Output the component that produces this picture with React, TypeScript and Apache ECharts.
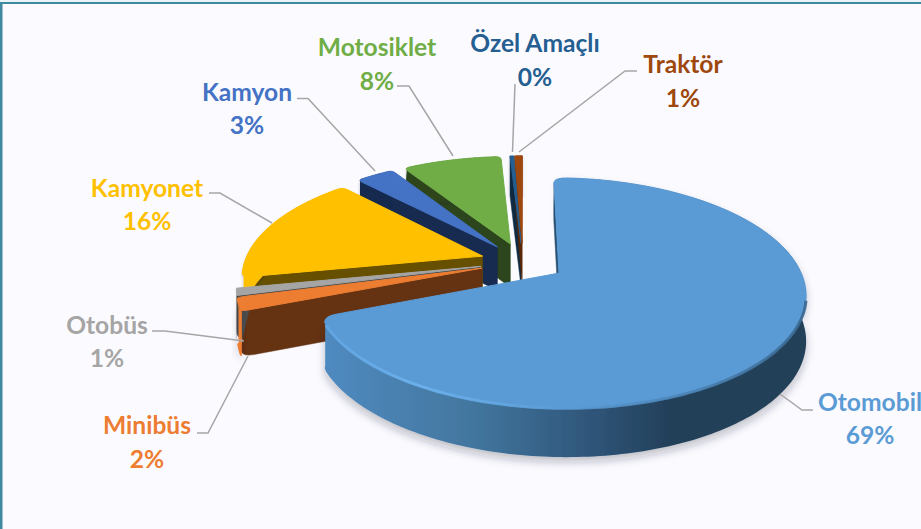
import React, { useEffect, useRef } from "react";
import * as echarts from "echarts";

const categories = ["Otomobil", "Minibüs", "Otobüs", "Kamyonet", "Kamyon", "Motosiklet", "Özel Amaçlı", "Traktör"];
const shareValues = [68.8, 1.9, 1, 16, 3.1, 8, 0.3, 0.6];

const topColors = ["#5b9bd5", "#ed7d31", "#a5a5a5", "#ffc000", "#4472c4", "#70ad47", "#255e91", "#9e480e"];
const cutColors = ["#2b5275", "#653212", "#4d4d4d", "#665000", "#172b50", "#2d451c", "#0f2a42", "#5a2807"];
const rimColors = ["#2b5275", "#ed7d31", "#8a8a8a", "#ffc000", "#172b50", "#2d451c", "#0f2a42", "#5a2807"];
const textColors = ["#5b9bd5", "#ed7d31", "#a5a5a5", "#ffc000", "#4472c4", "#70ad47", "#255e91", "#9e480e"];

const labelCentres: number[][] = [
  [870, 401], [147, 424], [107, 324], [147, 187], [247, 91], [377, 46], [535, 42], [683, 63],
];
const percentCentres: number[][] = [
  [870, 434], [147, 458], [107, 357], [147, 220], [247, 124], [377, 80], [535, 76], [683, 97],
];
const leaderLines: number[][][] = [
  [[780, 394], [802, 410], [813, 410]],
  [[197, 433], [208, 433], [248, 356]],
  [[152, 331], [165, 331], [244, 341]],
  [[209, 193], [220, 193], [272, 223]],
  [[297, 98.5], [308, 98.5], [375, 171]],
  [[397, 86], [409, 86], [453, 156]],
  [[515, 84], [512.5, 152]],
  [[637, 71], [625, 71], [519, 152]],
];

const CX = 523, CY = 262, RX = 238, RY = 108, K = 0.17, EXPLODE = 0.18, THICK = 44;
const FONT = "bold 24.6px Lato, 'Noto Sans', sans-serif";
const total = shareValues.reduce((a, b) => a + b, 0);

function project(X: number, Y: number, down: boolean): number[] {
  const d = 1 + K * Y;
  return [CX + (RX * X) / d, CY - (RY * Y) / d + (down ? THICK / Math.sqrt(d) : 0)];
}

// rounds the corner P between a point A and a point B
function cornerCurve(A: number[], P: number[], B: number[]): number[][] {
  const out: number[][] = [];
  for (let t = 0; t <= 1.0001; t += 0.2) {
    const u = 1 - t;
    out.push([
      u * u * A[0] + 2 * u * t * P[0] + t * t * B[0],
      u * u * A[1] + 2 * u * t * P[1] + t * t * B[1],
    ]);
  }
  return out;
}

function renderItem(params: any) {
  const i = params.dataIndex;
  const before = shareValues.slice(0, i).reduce((a, b) => a + b, 0);
  const a0 = (before / total) * Math.PI * 2;
  const a1 = ((before + shareValues[i]) / total) * Math.PI * 2;
  const mid = (a0 + a1) / 2;
  const ox = EXPLODE * Math.sin(mid);
  const oy = EXPLODE * Math.cos(mid);
  const rimAt = (a: number, down: boolean) => project(ox + Math.sin(a), oy + Math.cos(a), down);
  const alongEdge = (a: number, f: number, down: boolean) =>
    project(ox + Math.sin(a) * f, oy + Math.cos(a) * f, down);
  const apexTop = project(ox, oy, false);
  const apexLow = project(ox, oy, true);
  const sweep = a1 - a0;
  const isMain = i === 0;
  // corner rounding is limited on thin slices
  const roundA = isMain ? 0.07 : sweep > 0.3 ? 0.035 : sweep > 0.1 ? sweep * 0.12 : 0;
  const edgeF = isMain ? 0.94 : 0.965;
  const steps = Math.max(2, Math.ceil(sweep / 0.02));
  const outline = (down: boolean, trim: number) => {
    const pts: number[][] = [];
    if (roundA > 0) {
      pts.push(...cornerCurve(alongEdge(a0, edgeF, down), rimAt(a0, down), rimAt(a0 + roundA, down)).slice(trim));
    }
    for (let s = 0; s <= steps; s++) {
      const a = a0 + roundA + ((sweep - 2 * roundA) * s) / steps;
      pts.push(rimAt(a, down));
    }
    if (roundA > 0) {
      const c = cornerCurve(rimAt(a1 - roundA, down), rimAt(a1, down), alongEdge(a1, edgeF, down));
      pts.push(...c.slice(0, c.length - trim));
    }
    return pts;
  };
  const rimTop = outline(false, 0);
  const wallTop = outline(false, 3);
  const wallLow = outline(true, 3);
  const last = rimTop.length - 1;
  const base = Math.round((1 - Math.cos(mid)) * 100) * 10;
  const rimFill: any = isMain
    ? {
        type: "linear", x: 0, y: 0, x2: 1, y2: 0,
        colorStops: [
          { offset: 0, color: "#4f8ac0" },
          { offset: 0.3, color: "#43779f" },
          { offset: 0.55, color: "#2f567a" },
          { offset: 0.72, color: "#233f59" },
          { offset: 1, color: "#233f59" },
        ],
      }
    : rimColors[i];
  const cutPoly = (a: number, tip: number[]) => {
    const low = rimAt(a, true);
    const above = [low[0], low[1] - 9];
    return [apexTop, tip].concat(cornerCurve(above, low, alongEdge(a, 0.95, true)), [apexLow]);
  };
  const children: any[] = [
    {
      type: "polygon", z2: base,
      shape: { points: cutPoly(a0, rimTop[0]) },
      style: { fill: cutColors[i], stroke: cutColors[i], lineWidth: 0.5 },
    },
    {
      type: "polygon", z2: base + 1,
      shape: { points: wallTop.concat(wallLow.slice().reverse()) },
      style: {
        fill: rimFill,
        shadowBlur: isMain || i === 1 ? 9 : 3,
        shadowColor: "rgba(40,40,60,0.28)",
        shadowOffsetY: isMain ? 5 : 2,
      },
    },
    {
      type: "polygon", z2: base + 2,
      shape: { points: [apexTop].concat(rimTop) },
      style: { fill: topColors[i], stroke: topColors[i], lineWidth: 1, lineJoin: "round" },
    },
  ];
  if (isMain) {
    children.push({
      type: "polyline", z2: base + 3,
      shape: { points: rimTop.slice(Math.floor(last * 0.42), last - 4) },
      style: {
        fill: "none",
        lineWidth: 3,
        opacity: 0.9,
        stroke: {
          type: "linear", x: 1, y: 0, x2: 0, y2: 0,
          colorStops: [
            { offset: 0, color: "#3a678f" },
            { offset: 0.25, color: "#4b83b6" },
            { offset: 0.5, color: "#5b9bd5" },
            { offset: 0.8, color: "#6cb2ee" },
            { offset: 1, color: "#62a6e2" },
          ],
        },
      },
    });
  }
  children.push(
    {
      type: "polyline", z2: 5000,
      shape: { points: leaderLines[i] },
      style: { fill: "none", stroke: "#a6a6a6", lineWidth: 1.5 },
    },
    {
      type: "text", z2: 5001,
      style: {
        text: categories[i], x: labelCentres[i][0], y: labelCentres[i][1],
        fill: textColors[i], font: FONT, align: "center", verticalAlign: "middle",
      },
    },
    {
      type: "text", z2: 5001,
      style: {
        text: Math.round((shareValues[i] / total) * 100) + "%",
        x: percentCentres[i][0], y: percentCentres[i][1],
        fill: textColors[i], font: FONT, align: "center", verticalAlign: "middle",
      },
    }
  );
  return { type: "group", children };
}

export default function App() {
  const ref = useRef<HTMLDivElement>(null);
  useEffect(() => {
    document.body.style.margin = "0";
    const chart = echarts.init(ref.current as HTMLDivElement, undefined, { renderer: "svg" });
    chart.setOption({
      animation: false,
      backgroundColor: "#fbfbff",
      graphic: [
        { type: "rect", z: 0, shape: { x: 0, y: 0, width: 921, height: 2 }, style: { fill: "#e8f3f6" } },
        { type: "rect", z: 0, shape: { x: 0, y: 2, width: 921, height: 2 }, style: { fill: "#3f8a9e" } },
        { type: "rect", z: 0, shape: { x: 0, y: 2, width: 2.5, height: 527 }, style: { fill: "#3f8a9e" } },
      ],
      series: [
        {
          type: "custom",
          coordinateSystem: "none",
          renderItem,
          clip: false,
          silent: true,
          data: categories.map((name, i) => ({ name, value: shareValues[i] })),
        },
      ],
    });
    return () => chart.dispose();
  }, []);
  return <div ref={ref} style={{ width: 921, height: 529, position: "absolute", left: 0, top: 0 }} />;
}
